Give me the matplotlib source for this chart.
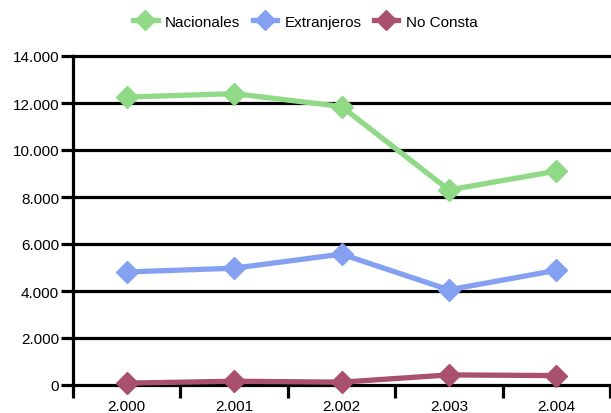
import matplotlib
matplotlib.use("Agg")
import matplotlib.pyplot as plt
import numpy as np

years = ["2.000", "2.001", "2.002", "2.003", "2.004"]
nacionales = [12250, 12400, 11850, 8300, 9100]
extranjeros = [4810, 4970, 5570, 4050, 4880]
no_consta = [80, 160, 120, 430, 400]
yticks = [0, 2000, 4000, 6000, 8000, 10000, 12000, 14000]
ylabels = ["0", "2.000", "4.000", "6.000", "8.000", "10.000", "12.000", "14.000"]

plt.rcParams['font.family'] = ['Liberation Sans', 'DejaVu Sans']
fig = plt.figure(figsize=(6.11, 4.14), dpi=100)
ax = fig.add_axes([73/611, 1-386/414, 537/611, (386-57)/414])

colors = ["#90da87", "#84a0f0", "#a8506c"]
names = ["Nacionales", "Extranjeros", "No Consta"]
x = np.arange(len(years)) + 0.5
handles = []
for vals, c, n in zip([nacionales, extranjeros, no_consta], colors, names):
    h, = ax.plot(x, vals, color=c, lw=3.8, marker='D', ms=11, mec=c, mfc=c,
                 label=n, zorder=3, clip_on=False)
    handles.append(h)

ax.set_xlim(0, 5)
ax.set_ylim(0, 14000)
for y in yticks:
    ax.axhline(y, color='black', lw=2.3, zorder=1, clip_on=False)
for s in ['top', 'right', 'bottom']:
    ax.spines[s].set_visible(False)
ax.spines['left'].set_linewidth(2.3)

ax.set_yticks(yticks)
ax.set_yticklabels(ylabels, fontsize=11)
ax.tick_params(axis='y', length=9, width=2.3, pad=1)

ax.set_xticks(np.arange(0, 6))
ax.set_xticklabels([])
ax.tick_params(axis='x', which='major', length=9.5, width=2.3)
ax.set_xticks(x, minor=True)
ax.set_xticklabels(years, minor=True, fontsize=11)
ax.tick_params(axis='x', which='minor', length=0, pad=10)

leg = fig.legend(handles=handles, loc='upper center', bbox_to_anchor=(0.5, 0.995),
                 ncol=3, frameon=False, fontsize=11, handlelength=1.6,
                 columnspacing=0.8, handletextpad=0.5, markerscale=0.9)
fig.savefig("out.png", dpi=100)
